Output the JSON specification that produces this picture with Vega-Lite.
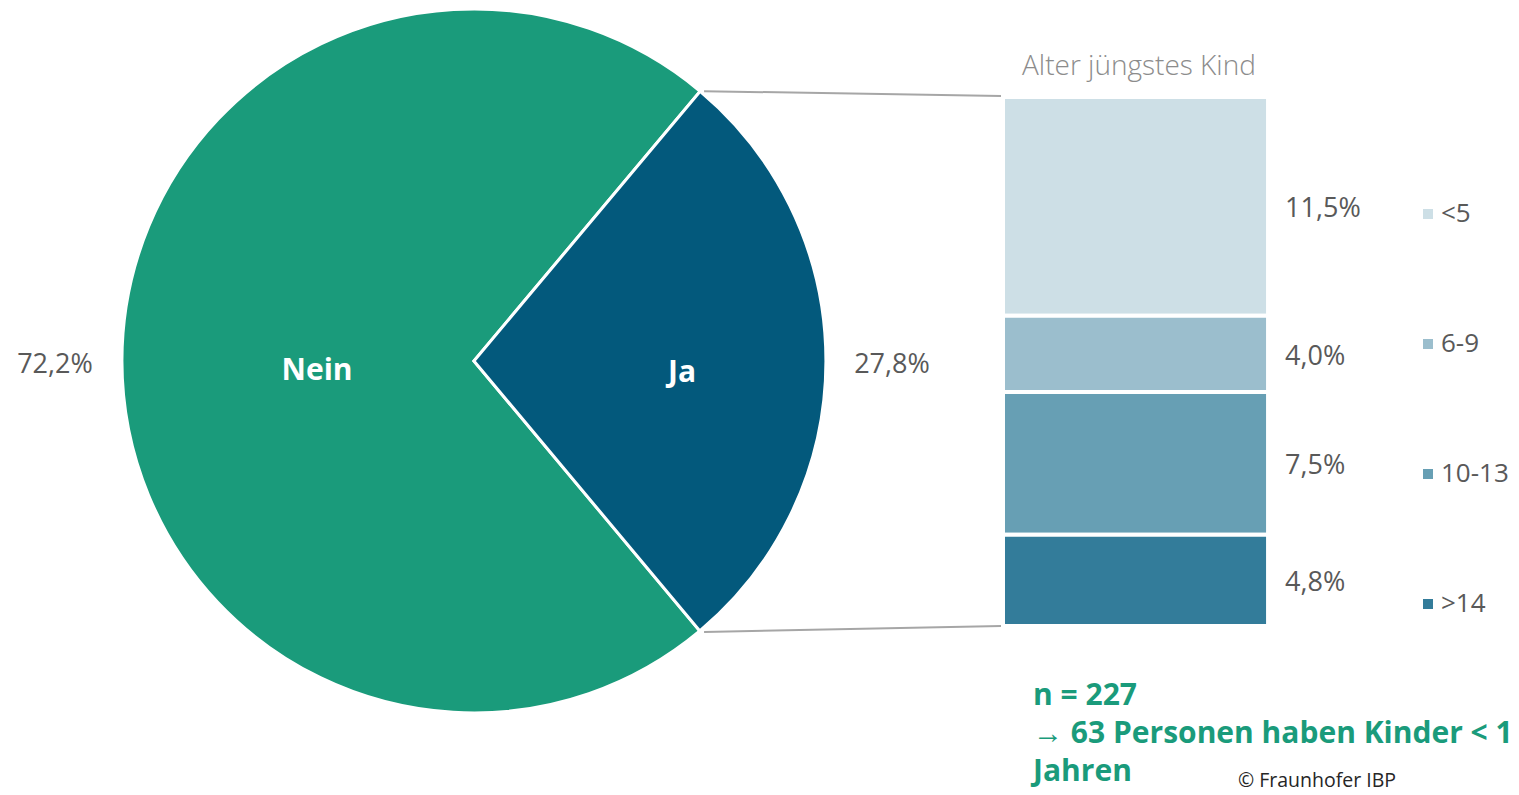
{
  "$schema": "https://vega.github.io/schema/vega-lite/v6.json",
  "width": 1519,
  "height": 795,
  "padding": 0,
  "autosize": {"type": "fit", "contains": "padding"},
  "background": "white",
  "config": {
    "view": {"stroke": null},
    "font": "Open Sans",
    "locale": {"number": {"decimal": ",", "thousands": ".", "grouping": [3], "currency": ["", " €"]}}
  },
  "datasets": {
    "pie": [
      {"group": "Nein", "share": 0.722},
      {"group": "Ja", "share": 0.278}
    ],
    "kids": [
      {"age": "<5", "share": 0.115, "rank": 4},
      {"age": "6-9", "share": 0.040, "rank": 3},
      {"age": "10-13", "share": 0.075, "rank": 2},
      {"age": ">14", "share": 0.048, "rank": 1}
    ],
    "notes": [
      {"line": 1, "text": "n = 227"},
      {"line": 2, "text": "→ 63 Personen haben Kinder < 1"},
      {"line": 3, "text": "Jahren"}
    ]
  },
  "resolve": {"scale": {"color": "independent"}, "legend": {"color": "independent"}},
  "layer": [
    {
      "data": {"name": "pie"},
      "transform": [
        {"stack": "share", "groupby": [], "sort": [{"field": "group", "order": "ascending"}], "as": ["t0", "t1"]}
      ],
      "mark": {"type": "arc", "outerRadius": 352, "stroke": "white", "strokeWidth": 3},
      "encoding": {
        "x": {"datum": 31.2, "type": "quantitative", "scale": {"domain": [0, 100], "nice": false, "zero": false}, "axis": null},
        "y": {"datum": 0.1393, "type": "quantitative", "scale": {"domain": [-0.0888, 0.329], "nice": false, "zero": false}, "axis": null},
        "theta": {"field": "t0", "type": "quantitative", "scale": {"domain": [0, 1], "range": [0.6981, 6.9813]}},
        "theta2": {"field": "t1"},
        "color": {"field": "group", "type": "nominal", "scale": {"domain": ["Ja", "Nein"], "range": ["#03597c", "#1a9b7b"]}, "legend": null}
      }
    },
    {
      "data": {"name": "pie"},
      "transform": [{"filter": "datum.group === 'Nein'"}],
      "layer": [
        {
          "mark": {"type": "text", "fontSize": 30, "fontWeight": "bold", "color": "white", "align": "center", "baseline": "middle", "dy": 3},
          "encoding": {
            "x": {"datum": 20.87, "type": "quantitative", "scale": {"domain": [0, 100], "nice": false, "zero": false}, "axis": null},
            "y": {"datum": 0.1356, "type": "quantitative", "scale": {"domain": [-0.0888, 0.329], "nice": false, "zero": false}, "axis": null},
            "text": {"field": "group"}
          }
        },
        {
          "mark": {"type": "text", "fontSize": 27, "color": "#595959", "align": "center", "baseline": "middle", "dy": 3},
          "encoding": {
            "x": {"datum": 3.62, "type": "quantitative", "scale": {"domain": [0, 100], "nice": false, "zero": false}, "axis": null},
            "y": {"datum": 0.1387, "type": "quantitative", "scale": {"domain": [-0.0888, 0.329], "nice": false, "zero": false}, "axis": null},
            "text": {"field": "share", "type": "quantitative", "format": ".1%"}
          }
        }
      ]
    },
    {
      "data": {"name": "pie"},
      "transform": [{"filter": "datum.group === 'Ja'"}],
      "layer": [
        {
          "mark": {"type": "text", "fontSize": 30, "fontWeight": "bold", "color": "white", "align": "center", "baseline": "middle", "dy": 3},
          "encoding": {
            "x": {"datum": 44.9, "type": "quantitative", "scale": {"domain": [0, 100], "nice": false, "zero": false}, "axis": null},
            "y": {"datum": 0.1345, "type": "quantitative", "scale": {"domain": [-0.0888, 0.329], "nice": false, "zero": false}, "axis": null},
            "text": {"field": "group"}
          }
        },
        {
          "mark": {"type": "text", "fontSize": 27, "color": "#595959", "align": "center", "baseline": "middle", "dy": 3},
          "encoding": {
            "x": {"datum": 58.72, "type": "quantitative", "scale": {"domain": [0, 100], "nice": false, "zero": false}, "axis": null},
            "y": {"datum": 0.1387, "type": "quantitative", "scale": {"domain": [-0.0888, 0.329], "nice": false, "zero": false}, "axis": null},
            "text": {"field": "share", "type": "quantitative", "format": ".1%"}
          }
        }
      ]
    },
    {
      "data": {"name": "pie"},
      "transform": [{"filter": "datum.group === 'Ja'"}],
      "mark": {"type": "rule", "color": "#a6a6a6", "strokeWidth": 2},
      "encoding": {
        "x": {"datum": 46.35, "type": "quantitative", "scale": {"domain": [0, 100], "nice": false, "zero": false}, "axis": null},
        "y": {"datum": 0.2811, "type": "quantitative", "scale": {"domain": [-0.0888, 0.329], "nice": false, "zero": false}, "axis": null},
        "x2": {"datum": 65.9},
        "y2": {"datum": 0.2785}
      }
    },
    {
      "data": {"name": "pie"},
      "transform": [{"filter": "datum.group === 'Ja'"}],
      "mark": {"type": "rule", "color": "#a6a6a6", "strokeWidth": 2},
      "encoding": {
        "x": {"datum": 46.35, "type": "quantitative", "scale": {"domain": [0, 100], "nice": false, "zero": false}, "axis": null},
        "y": {"datum": -0.00315, "type": "quantitative", "scale": {"domain": [-0.0888, 0.329], "nice": false, "zero": false}, "axis": null},
        "x2": {"datum": 65.9},
        "y2": {"datum": 0.0}
      }
    },
    {
      "data": {"name": "kids"},
      "transform": [
        {"stack": "share", "groupby": [], "sort": [{"field": "rank", "order": "ascending"}], "as": ["y0", "y1"]},
        {"calculate": "(datum.y0 + datum.y1) / 2", "as": "ymid"}
      ],
      "layer": [
        {
          "mark": {"type": "bar", "stroke": "white", "strokeWidth": 4},
          "encoding": {
            "x": {"datum": 66.03, "type": "quantitative", "scale": {"domain": [0, 100], "nice": false, "zero": false}, "axis": null},
            "x2": {"datum": 83.48},
            "y": {"field": "y0", "type": "quantitative", "scale": {"domain": [-0.0888, 0.329], "nice": false, "zero": false}, "axis": null},
            "y2": {"field": "y1"},
            "color": {
              "field": "age", "type": "nominal",
              "scale": {"domain": ["<5", "6-9", "10-13", ">14"], "range": ["#cddfe6", "#9bbecd", "#679fb4", "#337c9a"]},
              "legend": {
                "orient": "none", "legendX": 1415, "legendY": 201, "title": null,
                "symbolType": "square", "symbolSize": 100, "symbolStrokeWidth": 0,
                "labelFontSize": 26, "labelColor": "#595959", "labelFont": "Open Sans",
                "labelOffset": 0, "rowPadding": 104, "padding": 0
              }
            }
          }
        },
        {
          "mark": {"type": "text", "fontSize": 27, "color": "#595959", "align": "left", "baseline": "middle", "dy": 3},
          "encoding": {
            "x": {"datum": 84.6, "type": "quantitative", "scale": {"domain": [0, 100], "nice": false, "zero": false}, "axis": null},
            "y": {"field": "ymid", "type": "quantitative", "scale": {"domain": [-0.0888, 0.329], "nice": false, "zero": false}, "axis": null},
            "text": {"field": "share", "type": "quantitative", "format": ".1%"}
          }
        }
      ]
    },
    {
      "data": {"values": [{"title": "Alter jüngstes Kind"}]},
      "mark": {"type": "text", "fontSize": 28, "fontWeight": 300, "color": "#8c8c8c", "align": "center", "baseline": "middle", "dy": 2},
      "encoding": {
        "x": {"datum": 74.98, "type": "quantitative", "scale": {"domain": [0, 100], "nice": false, "zero": false}, "axis": null},
        "y": {"datum": 0.2948, "type": "quantitative", "scale": {"domain": [-0.0888, 0.329], "nice": false, "zero": false}, "axis": null},
        "text": {"field": "title"}
      }
    },
    {
      "data": {"name": "notes"},
      "transform": [{"filter": "datum.line === 1"}],
      "mark": {"type": "text", "fontSize": 30, "fontWeight": "bold", "color": "#1a9b7b", "align": "left", "baseline": "middle", "dy": 4},
      "encoding": {
        "x": {"datum": 68.01, "type": "quantitative", "scale": {"domain": [0, 100], "nice": false, "zero": false}, "axis": null},
        "y": {"datum": -0.0347, "type": "quantitative", "scale": {"domain": [-0.0888, 0.329], "nice": false, "zero": false}, "axis": null},
        "text": {"field": "text"}
      }
    },
    {
      "data": {"name": "notes"},
      "transform": [{"filter": "datum.line === 2"}],
      "mark": {"type": "text", "fontSize": 30, "fontWeight": "bold", "color": "#1a9b7b", "align": "left", "baseline": "middle", "dy": 4, "clip": true},
      "encoding": {
        "x": {"datum": 68.01, "type": "quantitative", "scale": {"domain": [0, 100], "nice": false, "zero": false}, "axis": null},
        "y": {"datum": -0.0547, "type": "quantitative", "scale": {"domain": [-0.0888, 0.329], "nice": false, "zero": false}, "axis": null},
        "text": {"field": "text"}
      }
    },
    {
      "data": {"name": "notes"},
      "transform": [{"filter": "datum.line === 3"}],
      "mark": {"type": "text", "fontSize": 30, "fontWeight": "bold", "color": "#1a9b7b", "align": "left", "baseline": "middle", "dy": 4},
      "encoding": {
        "x": {"datum": 68.01, "type": "quantitative", "scale": {"domain": [0, 100], "nice": false, "zero": false}, "axis": null},
        "y": {"datum": -0.0746, "type": "quantitative", "scale": {"domain": [-0.0888, 0.329], "nice": false, "zero": false}, "axis": null},
        "text": {"field": "text"}
      }
    },
    {
      "data": {"values": [{"credit": "© Fraunhofer IBP"}]},
      "mark": {"type": "text", "fontSize": 19.5, "color": "#262626", "align": "center", "baseline": "middle"},
      "encoding": {
        "x": {"datum": 86.7, "type": "quantitative", "scale": {"domain": [0, 100], "nice": false, "zero": false}, "axis": null},
        "y": {"datum": -0.0815, "type": "quantitative", "scale": {"domain": [-0.0888, 0.329], "nice": false, "zero": false}, "axis": null},
        "text": {"field": "credit"}
      }
    }
  ]
}
